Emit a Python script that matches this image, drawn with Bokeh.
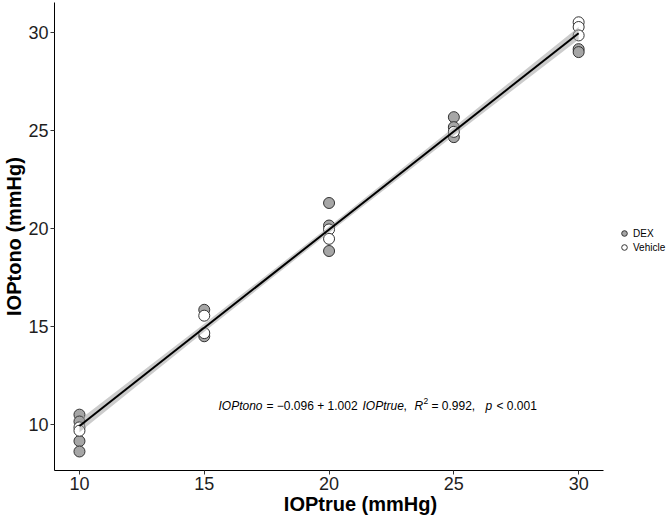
from bokeh.plotting import figure
from bokeh.models import Range1d, FixedTicker, Label, Legend, LegendItem
from bokeh.embed import file_html
from bokeh.resources import INLINE

# ---- data ----
dex_x = [10, 10, 10, 10, 15, 15, 20, 20, 20, 25, 25, 25, 30, 30]
dex_y = [10.5, 10.15, 9.15, 8.62, 15.85, 14.5, 21.3, 20.15, 18.85, 25.68, 25.17, 24.66, 29.15, 29.0]
veh_x = [10, 10, 15, 15, 20, 20, 25, 30, 30, 30]
veh_y = [9.85, 9.68, 15.55, 14.66, 19.95, 19.47, 24.93, 30.52, 30.28, 29.85]

fit_intercept = -0.096
fit_slope = 1.002
fit_x = [10, 30]
band_x = [10, 15, 20, 25, 30]
band_half = [0.32, 0.21, 0.16, 0.21, 0.32]

x_ticks = [10, 15, 20, 25, 30]
y_ticks = [10, 15, 20, 25, 30]

eq_parts = ["IOPtono", "= \u22120.096 + 1.002", "IOPtrue", ",", "R", "2", "= 0.992,", "p", "< 0.001"]
eq_italic = [True, False, True, False, True, False, False, True, False]

FONT = "Liberation Sans"

p = figure(width=666, height=519, output_backend="svg", toolbar_location=None,
           x_range=Range1d(9, 33.52), y_range=Range1d(7.65, 31.53),
           min_border_left=53, min_border_top=2, min_border_bottom=49, min_border_right=0)
p.background_fill_color = "white"
p.border_fill_color = "white"
p.outline_line_color = None
p.xgrid.visible = False
p.ygrid.visible = False

for ax, ticks in ((p.xaxis, x_ticks), (p.yaxis, y_ticks)):
    ax.ticker = FixedTicker(ticks=ticks)
    ax.minor_tick_line_color = None
    ax.axis_line_color = "black"
    ax.axis_line_width = 1
    ax.major_tick_line_color = "#333333"
    ax.major_tick_in = 0
    ax.major_tick_out = 4
    ax.major_label_text_font = FONT
    ax.major_label_text_font_size = "18px"
    ax.major_label_text_color = "#1e1e1e"
    ax.axis_label_text_font = FONT
    ax.axis_label_text_font_size = "20px"
    ax.axis_label_text_font_style = "bold"
    ax.axis_label_text_color = "black"

p.xaxis.bounds = (9, 31)
p.xaxis.axis_label = "IOPtrue (mmHg)"
p.yaxis.axis_label = "IOPtono (mmHg)"
p.xaxis.major_label_standoff = 2
p.xaxis.axis_label_standoff = 0
p.yaxis.major_label_standoff = 2
p.yaxis.axis_label_standoff = 0

# points
r_dex = p.scatter(dex_x, dex_y, size=11, fill_color="#a6a6a6", line_color="#333333", line_width=1)
r_veh = p.scatter(veh_x, veh_y, size=11, fill_color="white", line_color="#333333", line_width=1)

# confidence band and fit line
fit_band = [fit_intercept + fit_slope * x for x in band_x]
lower = [f - h for f, h in zip(fit_band, band_half)]
upper = [f + h for f, h in zip(fit_band, band_half)]
p.varea(x=band_x, y1=lower, y2=upper, fill_color="#999999", fill_alpha=0.5)
p.line(fit_x, [fit_intercept + fit_slope * x for x in fit_x], line_color="black", line_width=2)

# equation (screen positions of each piece)
eq_px = [217, 265, 361, 402, 413, 422, 430, 484, 495]
for txt, it, px in zip(eq_parts, eq_italic, eq_px):
    sup = txt == "2"
    p.add_layout(Label(x=px - 53, y=(470 - 405) + (5 if sup else 0), x_units="screen", y_units="screen",
                       text=txt, text_font=FONT, text_font_size="8.5px" if sup else "12px",
                       text_font_style="italic" if it else "normal",
                       text_align="left", text_baseline="middle", text_color="black"))

legend = Legend(items=[LegendItem(label="DEX", renderers=[r_dex]),
                       LegendItem(label="Vehicle", renderers=[r_veh])],
                location=(563, 216), orientation="vertical", margin=0, padding=1,
                glyph_width=14, glyph_height=14, label_standoff=2, spacing=0,
                label_text_font=FONT, label_text_font_size="10px", label_height=13,
                label_text_color="black",
                border_line_color=None, background_fill_alpha=0)
p.add_layout(legend, "center")

open("out.html", "w").write(file_html(p, INLINE))
